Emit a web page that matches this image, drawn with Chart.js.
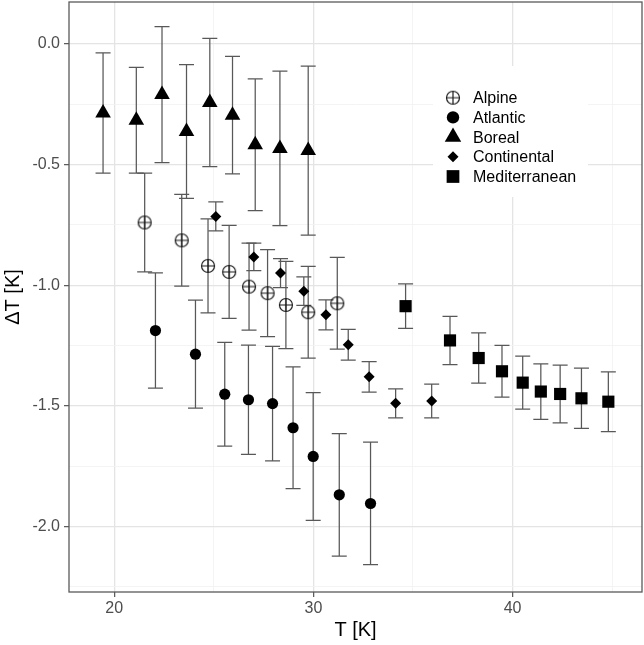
<!DOCTYPE html>
<html>
<head>
<meta charset="utf-8">
<script src="https://cdn.jsdelivr.net/npm/chart.js@4.4.1/dist/chart.umd.min.js"></script>
<style>
  html, body { margin: 0; padding: 0; background: #fff; }
</style>
</head>
<body>
<canvas id="chart" width="644" height="645"></canvas>
<script>
// axis ticks
const xMajorTicks = [20, 30, 40];
const xMinorTicks = [25, 35, 45];
const yMajorTicks = [0.0, -0.5, -1.0, -1.5, -2.0];
const yMinorTicks = [-0.25, -0.75, -1.25, -1.75, -2.25];

// series: T, delta T, error (+/-)
const alpineT   = [21.53, 23.39, 24.71, 25.77, 26.77, 27.70, 28.62, 29.74, 31.20];
const alpineDT  = [-0.740, -0.814, -0.920, -0.945, -1.006, -1.033, -1.082, -1.112, -1.075];
const alpineErr = [0.205, 0.190, 0.195, 0.193, 0.180, 0.180, 0.181, 0.190, 0.190];

const atlanticT   = [22.07, 24.08, 25.55, 26.74, 27.95, 28.98, 29.99, 31.30, 32.87];
const atlanticDT  = [-1.188, -1.286, -1.452, -1.475, -1.491, -1.591, -1.710, -1.869, -1.905];
const atlanticErr = [0.239, 0.224, 0.215, 0.226, 0.237, 0.252, 0.265, 0.254, 0.254];

const borealT   = [19.44, 21.11, 22.40, 23.63, 24.80, 25.94, 27.08, 28.32, 29.74];
const borealDT  = [-0.286, -0.316, -0.210, -0.363, -0.243, -0.295, -0.418, -0.433, -0.442];
const borealErr = [0.249, 0.219, 0.282, 0.277, 0.266, 0.244, 0.273, 0.320, 0.350];

const continentalT   = [25.10, 27.01, 28.35, 29.52, 30.63, 31.75, 32.80, 34.13, 35.94];
const continentalDT  = [-0.715, -0.883, -0.950, -1.025, -1.123, -1.247, -1.380, -1.490, -1.480];
const continentalErr = [0.060, 0.057, 0.060, 0.059, 0.062, 0.064, 0.063, 0.060, 0.070];

const mediterraneanT   = [34.63, 36.86, 38.30, 39.47, 40.51, 41.42, 42.39, 43.46, 44.81];
const mediterraneanDT  = [-1.087, -1.229, -1.302, -1.357, -1.404, -1.441, -1.451, -1.469, -1.483];
const mediterraneanErr = [0.092, 0.100, 0.104, 0.107, 0.110, 0.115, 0.120, 0.125, 0.124];

const FONT = '"Liberation Sans", Arial, Helvetica, sans-serif';

// open circle with a plus (ggplot shape 10)
function circlePlus(r) {
  const c = document.createElement('canvas');
  const s = Math.ceil(r * 2 + 3);
  c.width = s; c.height = s;
  const g = c.getContext('2d');
  const m = s / 2;
  g.strokeStyle = '#1a1a1a';
  g.lineWidth = 1.2;
  g.beginPath();
  g.arc(m, m, r, 0, Math.PI * 2);
  g.moveTo(m - r, m); g.lineTo(m + r, m);
  g.moveTo(m, m - r); g.lineTo(m, m + r);
  g.stroke();
  return c;
}
const alpineMarker = circlePlus(6.5);

function pts(xs, ys) {
  return xs.map((x, i) => ({ x: x, y: ys[i] }));
}

const datasets = [
  { label: 'Alpine', data: pts(alpineT, alpineDT), errors: alpineErr,
    pointStyle: alpineMarker, pointRadius: 7, legendRadius: 7 },
  { label: 'Atlantic', data: pts(atlanticT, atlanticDT), errors: atlanticErr,
    pointStyle: 'circle', pointRadius: 5.6, legendRadius: 6.2 },
  { label: 'Boreal', data: pts(borealT, borealDT), errors: borealErr,
    pointStyle: 'triangle', pointRadius: 9, legendRadius: 9.5 },
  { label: 'Continental', data: pts(continentalT, continentalDT), errors: continentalErr,
    pointStyle: 'rectRot', pointRadius: 5.5, legendRadius: 5.5 },
  { label: 'Mediterranean', data: pts(mediterraneanT, mediterraneanDT), errors: mediterraneanErr,
    pointStyle: 'rect', pointRadius: 8.6, legendRadius: 9 }
].map(d => Object.assign(d, {
  backgroundColor: '#000',
  borderColor: '#000',
  borderWidth: 0,
  pointBorderWidth: 0,
  pointHoverRadius: d.pointRadius
}));

// error bars under the points
const errorBars = {
  id: 'errorBars',
  beforeDatasetsDraw(chart) {
    const { ctx, scales: { x, y } } = chart;
    ctx.save();
    ctx.strokeStyle = '#585858';
    ctx.lineWidth = 1.25;
    chart.data.datasets.forEach(ds => {
      ds.data.forEach((p, i) => {
        const e = ds.errors[i];
        const px = x.getPixelForValue(p.x);
        const top = y.getPixelForValue(p.y + e);
        const bot = y.getPixelForValue(p.y - e);
        ctx.beginPath();
        ctx.moveTo(px, top); ctx.lineTo(px, bot);
        ctx.moveTo(px - 7.5, top); ctx.lineTo(px + 7.5, top);
        ctx.moveTo(px - 7.5, bot); ctx.lineTo(px + 7.5, bot);
        ctx.stroke();
      });
    });
    ctx.restore();
  }
};

// panel border + legend inside the panel
const panelExtras = {
  id: 'panelExtras',
  afterDatasetsDraw(chart) {
    const { ctx, chartArea: a } = chart;
    ctx.save();
    ctx.strokeStyle = '#5a5a5a';
    ctx.lineWidth = 1.3;
    ctx.strokeRect(a.left, a.top, a.right - a.left, a.bottom - a.top);

    // legend
    ctx.fillStyle = '#fff';
    ctx.fillRect(433, 66, 155, 131);
    ctx.font = '16px ' + FONT;
    ctx.textBaseline = 'middle';
    chart.data.datasets.forEach((ds, i) => {
      const yy = 97.7 + i * 19.7;
      ctx.fillStyle = '#000';
      Chart.helpers.drawPoint(ctx, {
        pointStyle: ds.pointStyle, radius: ds.legendRadius, rotation: 0, borderWidth: 0
      }, 453, yy);
      ctx.fillStyle = '#000';
      ctx.fillText(ds.label, 473, yy + 1);
    });
    ctx.restore();
  }
};

function gridColor(major) { return major ? '#e4e4e4' : '#f1f1f1'; }

// the panel edges do not sit on label positions, so no room is kept for half labels
function noEdgePadding(s) {
  s.paddingTop = 0; s.paddingBottom = 0; s.paddingLeft = 0; s.paddingRight = 0;
}

new Chart(document.getElementById('chart'), {
  type: 'scatter',
  data: { datasets: datasets },
  plugins: [errorBars, panelExtras],
  options: {
    responsive: false,
    animation: false,
    layout: { autoPadding: false, padding: { top: 2, right: 2, left: 0, bottom: 0 } },
    plugins: { legend: { display: false }, tooltip: { enabled: false } },
    scales: {
      x: {
        type: 'linear',
        min: 17.73,
        max: 46.5,
        afterBuildTicks: s => {
          s.ticks = xMajorTicks.concat(xMinorTicks).sort((a, b) => a - b).map(v => ({ value: v }));
        },
        afterFit: s => { s.height = 53; noEdgePadding(s); },
        border: { display: false },
        grid: {
          color: c => gridColor(xMajorTicks.includes(c.tick.value)),
          lineWidth: c => xMajorTicks.includes(c.tick.value) ? 1.3 : 0.8,
          tickLength: 5,
          tickWidth: 1.2,
          tickColor: c => xMajorTicks.includes(c.tick.value) ? '#555' : 'rgba(0,0,0,0)'
        },
        ticks: {
          autoSkip: false,
          maxRotation: 0,
          padding: 2,
          color: '#4d4d4d',
          font: { family: FONT, size: 16 },
          callback: v => xMajorTicks.includes(v) ? String(v) : ''
        },
        title: {
          display: true,
          text: 'T [K]',
          color: '#000',
          font: { family: FONT, size: 20 },
          padding: { top: 0, bottom: 2.3 }
        }
      },
      y: {
        type: 'linear',
        min: -2.272,
        max: 0.174,
        afterBuildTicks: s => {
          s.ticks = yMajorTicks.concat(yMinorTicks).sort((a, b) => a - b).map(v => ({ value: v }));
        },
        afterFit: s => { s.width = 69; noEdgePadding(s); },
        border: { display: false },
        grid: {
          color: c => gridColor(yMajorTicks.includes(c.tick.value)),
          lineWidth: c => yMajorTicks.includes(c.tick.value) ? 1.3 : 0.8,
          tickLength: 5,
          tickWidth: 1.2,
          tickColor: c => yMajorTicks.includes(c.tick.value) ? '#555' : 'rgba(0,0,0,0)'
        },
        ticks: {
          autoSkip: false,
          padding: 4,
          color: '#4d4d4d',
          font: { family: FONT, size: 16 },
          callback: v => yMajorTicks.includes(v) ? v.toFixed(1) : ''
        },
        title: {
          display: true,
          text: 'ΔT [K]',
          color: '#000',
          font: { family: FONT, size: 20 },
          padding: { top: 1, bottom: 0 }
        }
      }
    }
  }
});
</script>
</body>
</html>
